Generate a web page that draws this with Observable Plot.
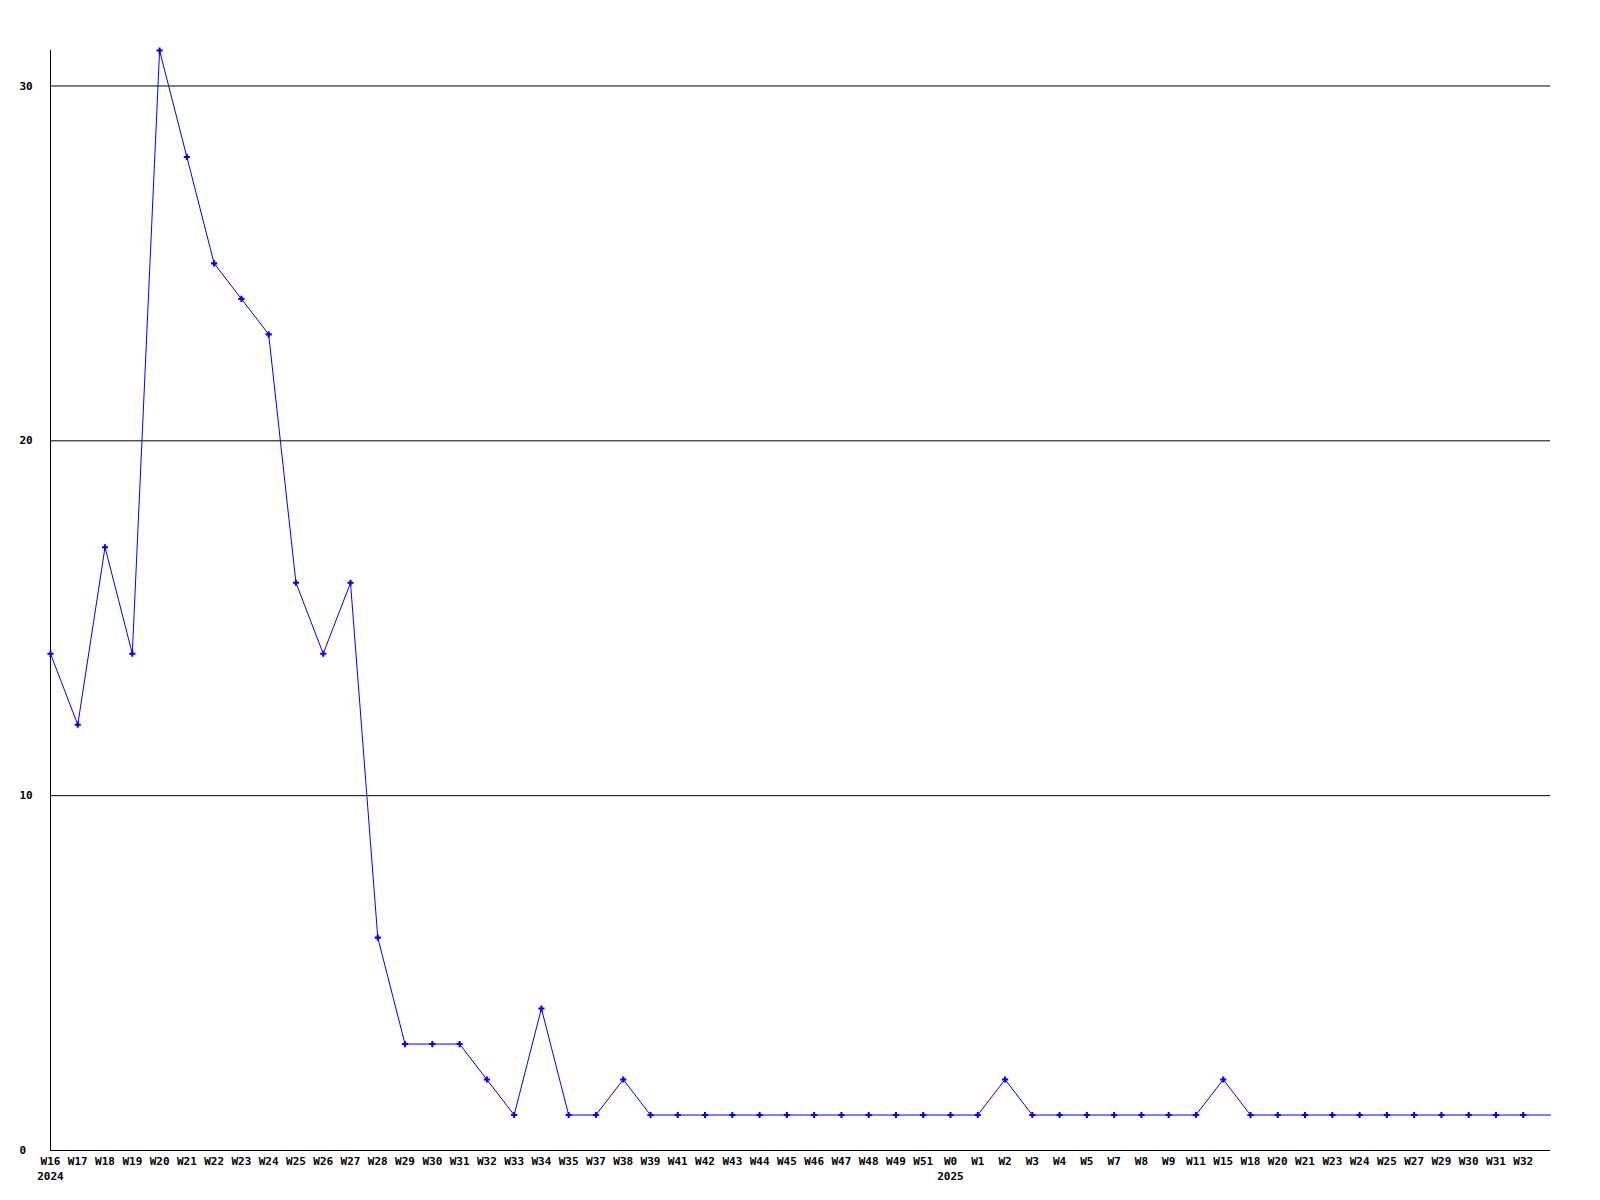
<!DOCTYPE html>
<html>
<head>
<meta charset="utf-8">
<script src="https://cdn.jsdelivr.net/npm/d3@7"></script>
<script src="https://cdn.jsdelivr.net/npm/@observablehq/plot@0.6"></script>
<style>
  html, body { margin: 0; padding: 0; background: #fff; }
  #chart svg { display: block; }
</style>
</head>
<body>
<div id="chart"></div>
<script>
// Week labels (last position is an unlabeled trailing point)
const weeks = [
  "W16","W17","W18","W19","W20","W21","W22","W23","W24","W25","W26","W27","W28","W29","W30","W31","W32","W33","W34","W35",
  "W37","W38","W39","W41","W42","W43","W44","W45","W46","W47","W48","W49","W51",
  "W0","W1","W2","W3","W4","W5","W7","W8","W9","W11","W15","W18","W20","W21","W23","W24","W25","W27","W29","W30","W31","W32",
  ""
];
const years = [
  "2024","2024","2024","2024","2024","2024","2024","2024","2024","2024","2024","2024","2024","2024","2024","2024","2024","2024","2024","2024",
  "2024","2024","2024","2024","2024","2024","2024","2024","2024","2024","2024","2024","2024",
  "2025","2025","2025","2025","2025","2025","2025","2025","2025","2025","2025","2025","2025","2025","2025","2025","2025","2025","2025","2025","2025","2025",
  "2025"
];
const values = [
  14,12,17,14,31,28,25,24,23,16,14,16,6,3,3,3,2,1,4,1,
  1,2,1,1,1,1,1,1,1,1,1,1,1,
  1,1,2,1,1,1,1,1,1,1,2,1,1,1,1,1,1,1,1,1,1,1,
  1
];
const yTicks = [0, 10, 20, 30];
const gridValues = [10, 20, 30];

const data = weeks.map((w, i) => ({key: i, week: w, year: years[i], value: values[i]}));
const keys = data.map(d => d.key);
const labeled = data.filter(d => d.week !== "");
const labeledKeys = labeled.map(d => d.key);
const yearStarts = data.filter((d, i) => i === 0 || years[i] !== years[i - 1]).map(d => d.key);

const font = "'DejaVu Sans Mono', 'Liberation Mono', monospace";

const chart = Plot.plot({
  width: 1600,
  height: 1200,
  marginLeft: 50,
  marginRight: 50,
  marginTop: 50,
  marginBottom: 50,
  style: {fontFamily: font, fontSize: "11px", fontWeight: "bold", background: "#fff", color: "#000"},
  x: {type: "linear", domain: [keys[0], keys[keys.length - 1]]},
  y: {domain: [0, 31]},
  marks: [
    Plot.ruleY(gridValues, {stroke: "#000", strokeWidth: 1}),
    Plot.ruleY([0], {stroke: "#000", strokeWidth: 1}),
    Plot.ruleX([keys[0]], {stroke: "#000", strokeWidth: 1}),
    Plot.axisY({ticks: yTicks, tickSize: 0, textAnchor: "start", dx: -22, label: null, fill: "#000"}),
    Plot.axisX({ticks: labeledKeys, tickSize: 0, tickPadding: 7, tickFormat: k => data[k].week, label: null, fill: "#000"}),
    Plot.axisX({ticks: yearStarts, tickSize: 0, tickPadding: 22, tickFormat: k => data[k].year, label: null, fill: "#000"}),
    Plot.line(data, {x: "key", y: "value", stroke: "#0000ff", strokeWidth: 1}),
    Plot.dot(labeled, {x: "key", y: "value", symbol: "cross", r: 2.6, fill: "#0000ff", stroke: "none"})
  ]
});

document.getElementById("chart").appendChild(chart);
</script>
</body>
</html>
